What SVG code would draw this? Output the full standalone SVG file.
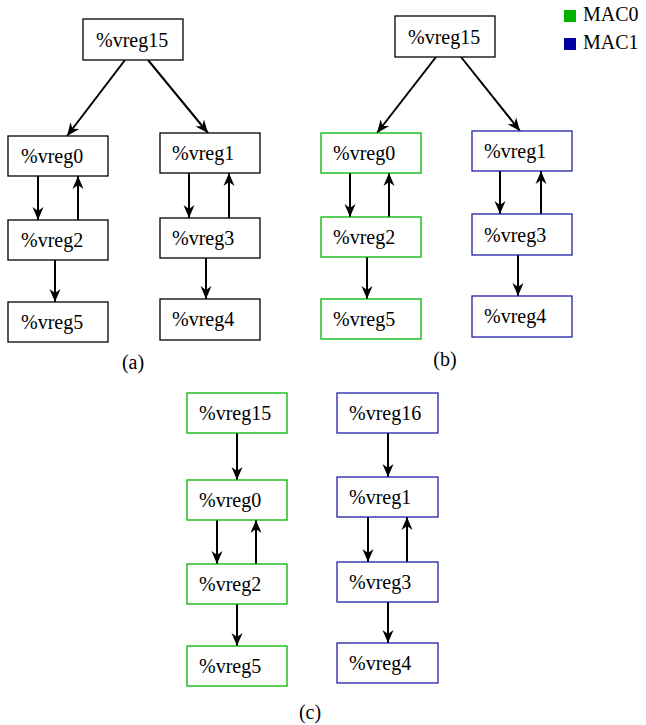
<svg xmlns="http://www.w3.org/2000/svg" width="646" height="725" viewBox="0 0 646 725">
<style>
.n{fill:#fff;stroke:#000;stroke-width:1.3}
.g{stroke:#00b400}
.b{stroke:#2020a8}
text{font-family:"Liberation Serif","Times New Roman",serif;font-size:20px;fill:#000}
.e{stroke:#000;stroke-width:2;fill:none;marker-end:url(#ah)}
</style>
<defs>
<marker id="ah" markerUnits="userSpaceOnUse" markerWidth="16" markerHeight="12" viewBox="-14 -6 16 12" refX="0" refY="0" orient="auto">
<path d="M0,0 L-13,-5.5 L-9,0 L-13,5.5 Z" fill="#000"/>
</marker>
</defs>
<rect width="646" height="725" fill="#fff"/>
<g id="connectors">
<line class="e" x1="125" y1="60" x2="67" y2="136"/>
<line class="e" x1="148" y1="60" x2="208" y2="133"/>
<line class="e" x1="38" y1="176" x2="38" y2="220"/>
<line class="e" x1="78" y1="220" x2="78" y2="176"/>
<line class="e" x1="55" y1="260" x2="55" y2="302"/>
<line class="e" x1="189" y1="173" x2="189" y2="218"/>
<line class="e" x1="229" y1="218" x2="229" y2="173"/>
<line class="e" x1="206" y1="258" x2="206" y2="299"/>
<line class="e" x1="436" y1="57" x2="377" y2="133"/>
<line class="e" x1="461" y1="57" x2="520" y2="131"/>
<line class="e" x1="350" y1="173" x2="350" y2="217"/>
<line class="e" x1="389" y1="217" x2="389" y2="173"/>
<line class="e" x1="367" y1="257" x2="367" y2="299"/>
<line class="e" x1="500" y1="171" x2="500" y2="214"/>
<line class="e" x1="541" y1="214" x2="541" y2="171"/>
<line class="e" x1="518" y1="255" x2="518" y2="296"/>
<line class="e" x1="237" y1="433" x2="237" y2="480"/>
<line class="e" x1="217" y1="520" x2="217" y2="564"/>
<line class="e" x1="256" y1="564" x2="256" y2="520"/>
<line class="e" x1="237" y1="604" x2="237" y2="646"/>
<line class="e" x1="388" y1="433" x2="388" y2="477"/>
<line class="e" x1="368" y1="517" x2="368" y2="562"/>
<line class="e" x1="407" y1="562" x2="407" y2="517"/>
<line class="e" x1="388" y1="602" x2="388" y2="643"/>
</g>
<g id="a_vreg15"><rect class="n" x="83" y="19" width="100" height="41"/><text x="96" y="47">%vreg15</text></g>
<g id="a_vreg0"><rect class="n" x="8" y="136" width="100" height="40"/><text x="21" y="163">%vreg0</text></g>
<g id="a_vreg2"><rect class="n" x="8" y="220" width="100" height="40"/><text x="21" y="247">%vreg2</text></g>
<g id="a_vreg5"><rect class="n" x="8" y="302" width="100" height="40"/><text x="21" y="329">%vreg5</text></g>
<g id="a_vreg1"><rect class="n" x="160" y="133" width="100" height="40"/><text x="172" y="160">%vreg1</text></g>
<g id="a_vreg3"><rect class="n" x="160" y="218" width="100" height="40"/><text x="172" y="245">%vreg3</text></g>
<g id="a_vreg4"><rect class="n" x="160" y="299" width="100" height="41"/><text x="172" y="326">%vreg4</text></g>
<text x="133" y="369" text-anchor="middle">(a)</text>

<g id="b_vreg15"><rect class="n" x="395" y="16" width="100" height="41"/><text x="408" y="44">%vreg15</text></g>
<g id="b_vreg0"><rect class="n g" x="321" y="133" width="100" height="40"/><text x="333" y="160">%vreg0</text></g>
<g id="b_vreg2"><rect class="n g" x="321" y="217" width="100" height="40"/><text x="333" y="244">%vreg2</text></g>
<g id="b_vreg5"><rect class="n g" x="321" y="299" width="100" height="40"/><text x="333" y="326">%vreg5</text></g>
<g id="b_vreg1"><rect class="n b" x="472" y="131" width="100" height="40"/><text x="484" y="158">%vreg1</text></g>
<g id="b_vreg3"><rect class="n b" x="472" y="214" width="100" height="41"/><text x="484" y="242">%vreg3</text></g>
<g id="b_vreg4"><rect class="n b" x="472" y="296" width="100" height="41"/><text x="484" y="323">%vreg4</text></g>
<text x="445" y="366" text-anchor="middle">(b)</text>

<g id="legend">
<rect x="564" y="10" width="12" height="12" fill="#00b400"/>
<text x="583" y="21">MAC0</text>
<rect x="564" y="38" width="12" height="12" fill="#0000a0"/>
<text x="583" y="49">MAC1</text>
</g>

<g id="c_vreg15"><rect class="n g" x="187" y="393" width="100" height="40"/><text x="199" y="420">%vreg15</text></g>
<g id="c_vreg0"><rect class="n g" x="187" y="480" width="100" height="40"/><text x="199" y="507">%vreg0</text></g>
<g id="c_vreg2"><rect class="n g" x="187" y="564" width="100" height="40"/><text x="199" y="591">%vreg2</text></g>
<g id="c_vreg5"><rect class="n g" x="187" y="646" width="100" height="40"/><text x="199" y="673">%vreg5</text></g>
<g id="c_vreg16"><rect class="n b" x="337" y="393" width="101" height="40"/><text x="349" y="420">%vreg16</text></g>
<g id="c_vreg1"><rect class="n b" x="337" y="477" width="101" height="40"/><text x="349" y="504">%vreg1</text></g>
<g id="c_vreg3"><rect class="n b" x="337" y="562" width="101" height="40"/><text x="349" y="589">%vreg3</text></g>
<g id="c_vreg4"><rect class="n b" x="337" y="643" width="101" height="40"/><text x="349" y="670">%vreg4</text></g>
<text x="310" y="719" text-anchor="middle">(c)</text>
</svg>
